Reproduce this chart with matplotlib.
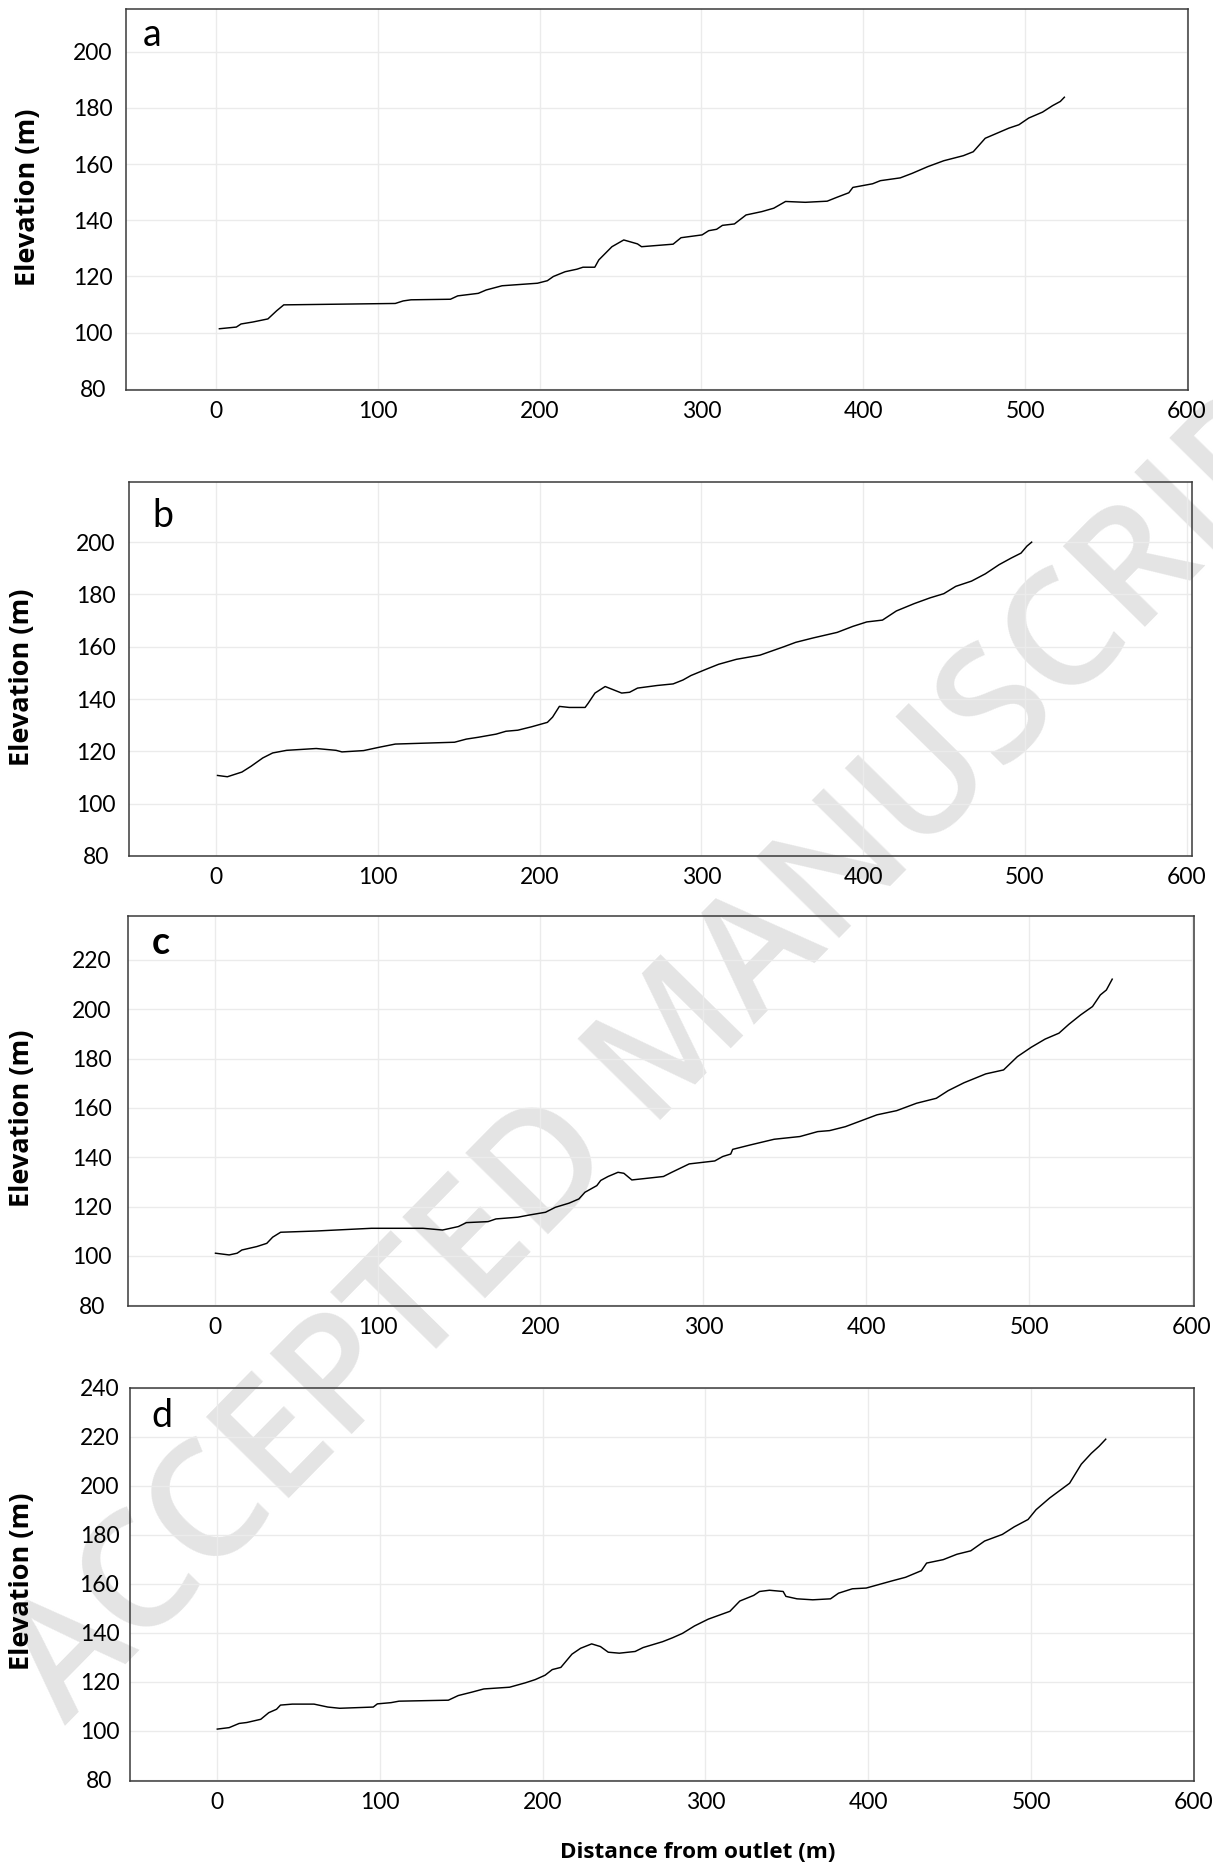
import matplotlib
matplotlib.use("Agg")
import matplotlib.pyplot as plt

# ---------------- data ----------------
a_x = [2.1, 12.6, 15.5, 22.8, 32.1, 37.5, 41.9, 110.8, 115.7, 120.5, 144.9, 149.4, 162.1, 167.0, 176.8,
       186.5, 198.7, 204.8, 208.5, 215.8, 223.1, 226.8, 234.1, 236.6, 244.7, 252.0, 260.5, 263.0, 282.5,
       287.4, 300.4, 304.5, 309.4, 313.0, 320.4, 327.6, 337.4, 344.7, 352.0, 364.2, 377.7, 383.8, 391.1,
       393.6, 405.8, 410.6, 422.9, 430.2, 439.9, 449.8, 461.9, 468.0, 475.4, 481.5, 490.0, 496.2, 502.3,
       510.8, 517.0, 521.8, 524.3]
a_y = [101.4, 102.0, 103.1, 103.8, 104.9, 107.8, 109.9, 110.4, 111.3, 111.7, 111.9, 113.1, 114.0, 115.2, 116.7,
       117.1, 117.6, 118.5, 120.0, 121.7, 122.6, 123.3, 123.3, 125.9, 130.6, 133.0, 131.6, 130.6, 131.5,
       133.8, 134.8, 136.3, 136.8, 138.2, 138.7, 141.9, 143.1, 144.3, 146.7, 146.4, 146.8, 148.2, 149.8,
       151.7, 153.0, 154.1, 155.1, 156.7, 159.1, 161.2, 163.0, 164.4, 169.2, 170.7, 172.8, 174.0, 176.4,
       178.5, 180.8, 182.3, 183.8]

b_x = [0.9, 7.0, 16.0, 21.6, 28.9, 35.0, 43.6, 61.9, 74.2, 77.8, 91.2, 101.0, 110.8, 147.4, 154.7,
       162.1, 173.1, 179.2, 186.5, 195.0, 204.8, 208.0, 212.2, 218.3, 228.1, 230.0, 234.2, 240.5, 250.7,
       255.6, 260.5, 272.7, 282.5, 288.6, 293.5, 303.3, 310.6, 321.6, 336.2, 350.9, 358.3, 369.2, 383.9,
       393.6, 402.2, 411.9, 420.5, 431.5, 441.3, 449.8, 457.2, 466.9, 475.5, 484.0, 491.4, 497.5, 501.2, 504.1]
b_y = [110.8, 110.3, 112.1, 114.3, 117.5, 119.4, 120.4, 121.1, 120.4, 119.8, 120.3, 121.6, 122.8, 123.5, 124.7,
       125.4, 126.6, 127.7, 128.1, 129.4, 131.1, 133.1, 137.2, 136.8, 136.8, 138.4, 142.3, 144.8, 142.3,
       142.6, 144.2, 145.2, 145.8, 147.3, 149.0, 151.5, 153.3, 155.2, 156.8, 160.0, 161.7, 163.4, 165.5,
       167.8, 169.5, 170.2, 173.7, 176.5, 178.7, 180.3, 183.1, 185.1, 187.9, 191.4, 193.9, 195.8, 198.5, 200.0]

c_x = [0.5, 8.9, 13.8, 16.7, 25.9, 32.0, 35.6, 40.5, 62.3, 96.2, 127.8, 139.9, 149.6, 154.5, 167.8,
       172.7, 186.1, 193.3, 203.1, 209.1, 217.6, 223.6, 227.3, 234.6, 237.0, 241.5, 247.6, 251.2, 256.1,
       275.5, 280.3, 291.3, 307.0, 311.9, 316.8, 318.0, 328.9, 343.5, 359.3, 370.2, 377.5, 387.2, 396.9,
       406.6, 418.7, 430.9, 443.0, 450.3, 460.0, 473.4, 484.3, 492.8, 501.3, 509.8, 518.3, 524.4, 531.6,
       538.9, 543.7, 547.4, 551.0]
c_y = [101.1, 100.4, 101.1, 102.4, 103.8, 105.1, 107.6, 109.6, 110.1, 111.2, 111.2, 110.5, 111.9, 113.5, 113.9,
       115.0, 115.7, 116.6, 117.7, 119.7, 121.4, 123.1, 125.8, 128.5, 130.6, 132.2, 133.9, 133.5, 130.8,
       132.2, 133.8, 137.3, 138.5, 140.3, 141.3, 143.2, 145.0, 147.3, 148.4, 150.4, 150.8, 152.4, 154.8,
       157.2, 158.9, 161.9, 163.9, 167.0, 170.2, 173.8, 175.4, 180.8, 184.6, 187.9, 190.3, 193.9, 197.7,
       201.1, 205.8, 207.8, 212.2]

d_x = [0.2, 7.5, 13.6, 18.4, 26.9, 31.8, 36.6, 39.0, 46.3, 59.6, 68.1, 75.4, 96.0, 98.5, 106.9,
       111.8, 142.1, 148.2, 156.6, 163.9, 179.7, 189.4, 195.4, 201.5, 205.9, 211.2, 218.0, 223.3, 230.1,
       235.5, 240.3, 247.1, 256.8, 261.7, 273.7, 279.8, 285.9, 293.2, 301.7, 315.0, 321.1, 329.6, 333.2,
       339.3, 347.7, 349.4, 356.2, 365.9, 376.8, 381.7, 390.2, 398.7, 414.4, 422.9, 432.6, 435.8, 446.0,
       454.4, 462.9, 471.4, 482.3, 489.6, 498.1, 503.0, 511.4, 523.6, 530.8, 536.9, 541.7, 545.8]
d_y = [100.7, 101.3, 103.0, 103.4, 104.7, 107.4, 108.8, 110.5, 110.9, 110.9, 109.7, 109.2, 109.7, 111.0, 111.5,
       112.1, 112.5, 114.4, 115.8, 117.1, 117.8, 119.6, 120.9, 122.7, 125.0, 125.9, 131.3, 133.7, 135.5,
       134.4, 132.1, 131.7, 132.4, 134.0, 136.4, 138.0, 139.8, 142.8, 145.6, 148.8, 153.0, 155.3, 156.9,
       157.4, 156.9, 154.9, 153.9, 153.5, 153.9, 156.2, 158.0, 158.3, 161.2, 162.7, 165.4, 168.5, 169.9,
       172.1, 173.5, 177.5, 180.2, 183.3, 186.3, 190.3, 195.1, 201.1, 208.9, 213.3, 216.2, 219.1]

panel_letters = ["a", "b", "c", "d"]
x_ticks = [0, 100, 200, 300, 400, 500, 600]
y_ticks_a = [80, 100, 120, 140, 160, 180, 200]
y_ticks_b = [80, 100, 120, 140, 160, 180, 200]
y_ticks_c = [80, 100, 120, 140, 160, 180, 200, 220]
y_ticks_d = [80, 100, 120, 140, 160, 180, 200, 220, 240]
y_label = "Elevation (m)"
x_label = "Distance from outlet (m)"
watermark = "ACCEPTED MANUSCRIPT"

# ---------------- layout ----------------
W, H = 1213, 1866
fig = plt.figure(figsize=(W / 100, H / 100), dpi=100)
TICKFONT = ["Lato", "DejaVu Sans"]
LABFONT = ["Open Sans", "DejaVu Sans"]
plt.rcParams["font.family"] = TICKFONT


def px_axes(left, right, top, bottom):
    return [left / W, 1 - bottom / H, (right - left) / W, (bottom - top) / H]


panels = [
    dict(box=(126, 1188, 9, 390), x=a_x, y=a_y, xlim=(-55.6, 600.7), ylim=(79.6, 215.2), yt=y_ticks_a,
         letter_xy=(143, 46), bold=False, ylab=(28, 197), ypad=24),
    dict(box=(129, 1192, 482, 856), x=b_x, y=b_y, xlim=(-53.8, 603.2), ylim=(80.0, 223.0), yt=y_ticks_b,
         letter_xy=(152, 527), bold=False, ylab=(22, 677), ypad=24),
    dict(box=(128, 1194, 916, 1306), x=c_x, y=c_y, xlim=(-53.2, 601.2), ylim=(79.7, 237.8), yt=y_ticks_c,
         letter_xy=(152, 954), bold=True, ylab=(22, 1118), ypad=26),
    dict(box=(130, 1194, 1388, 1781), x=d_x, y=d_y, xlim=(-53.4, 599.4), ylim=(79.5, 239.5), yt=y_ticks_d,
         letter_xy=(151, 1427), bold=False, ylab=(22, 1581), ypad=22),
]

for i, p in enumerate(panels):
    ax = fig.add_axes(px_axes(*p["box"]))
    ax.set_facecolor("none")
    ax.plot(p["x"], p["y"], color="black", lw=1.05, zorder=3)
    ax.set_xlim(*p["xlim"])
    ax.set_ylim(*p["ylim"])
    ax.set_xticks(x_ticks)
    ax.set_yticks(p["yt"])
    ax.grid(True, color="#ebebeb", lw=1.0, zorder=0)
    ax.set_axisbelow(True)
    ax.tick_params(length=0, labelsize=16.5, colors="black")
    ax.tick_params(axis="x", pad=8)
    ax.tick_params(axis="y", pad=p["ypad"])
    for lab in ax.get_yticklabels():
        lab.set_horizontalalignment("center")
    for s in ax.spines.values():
        s.set_color("#3a3a3a")
        s.set_linewidth(1.1)
    lx, ly = p["letter_xy"]
    fig.text(lx / W, 1 - ly / H, panel_letters[i], fontsize=27,
             fontweight="bold" if p["bold"] else "normal", ha="left", va="baseline")
    yx, yy = p["ylab"]
    fig.text(yx / W, 1 - yy / H, y_label, rotation=90, fontsize=19.5, fontweight="bold",
             family=LABFONT, ha="center", va="center")

fig.text(698 / W, 1 - 1853 / H, x_label, fontsize=16.2, fontweight="bold", family=LABFONT,
         ha="center", va="center")

fig.text(690 / W, 1 - 1030 / H, watermark, fontsize=116, fontweight="semibold",
         family=["Open Sans", "DejaVu Sans"],
         color="#e4e4e4", rotation=45.5, rotation_mode="anchor", ha="center", va="center", zorder=-1)

fig.savefig("out.png", dpi=100, facecolor="white")
